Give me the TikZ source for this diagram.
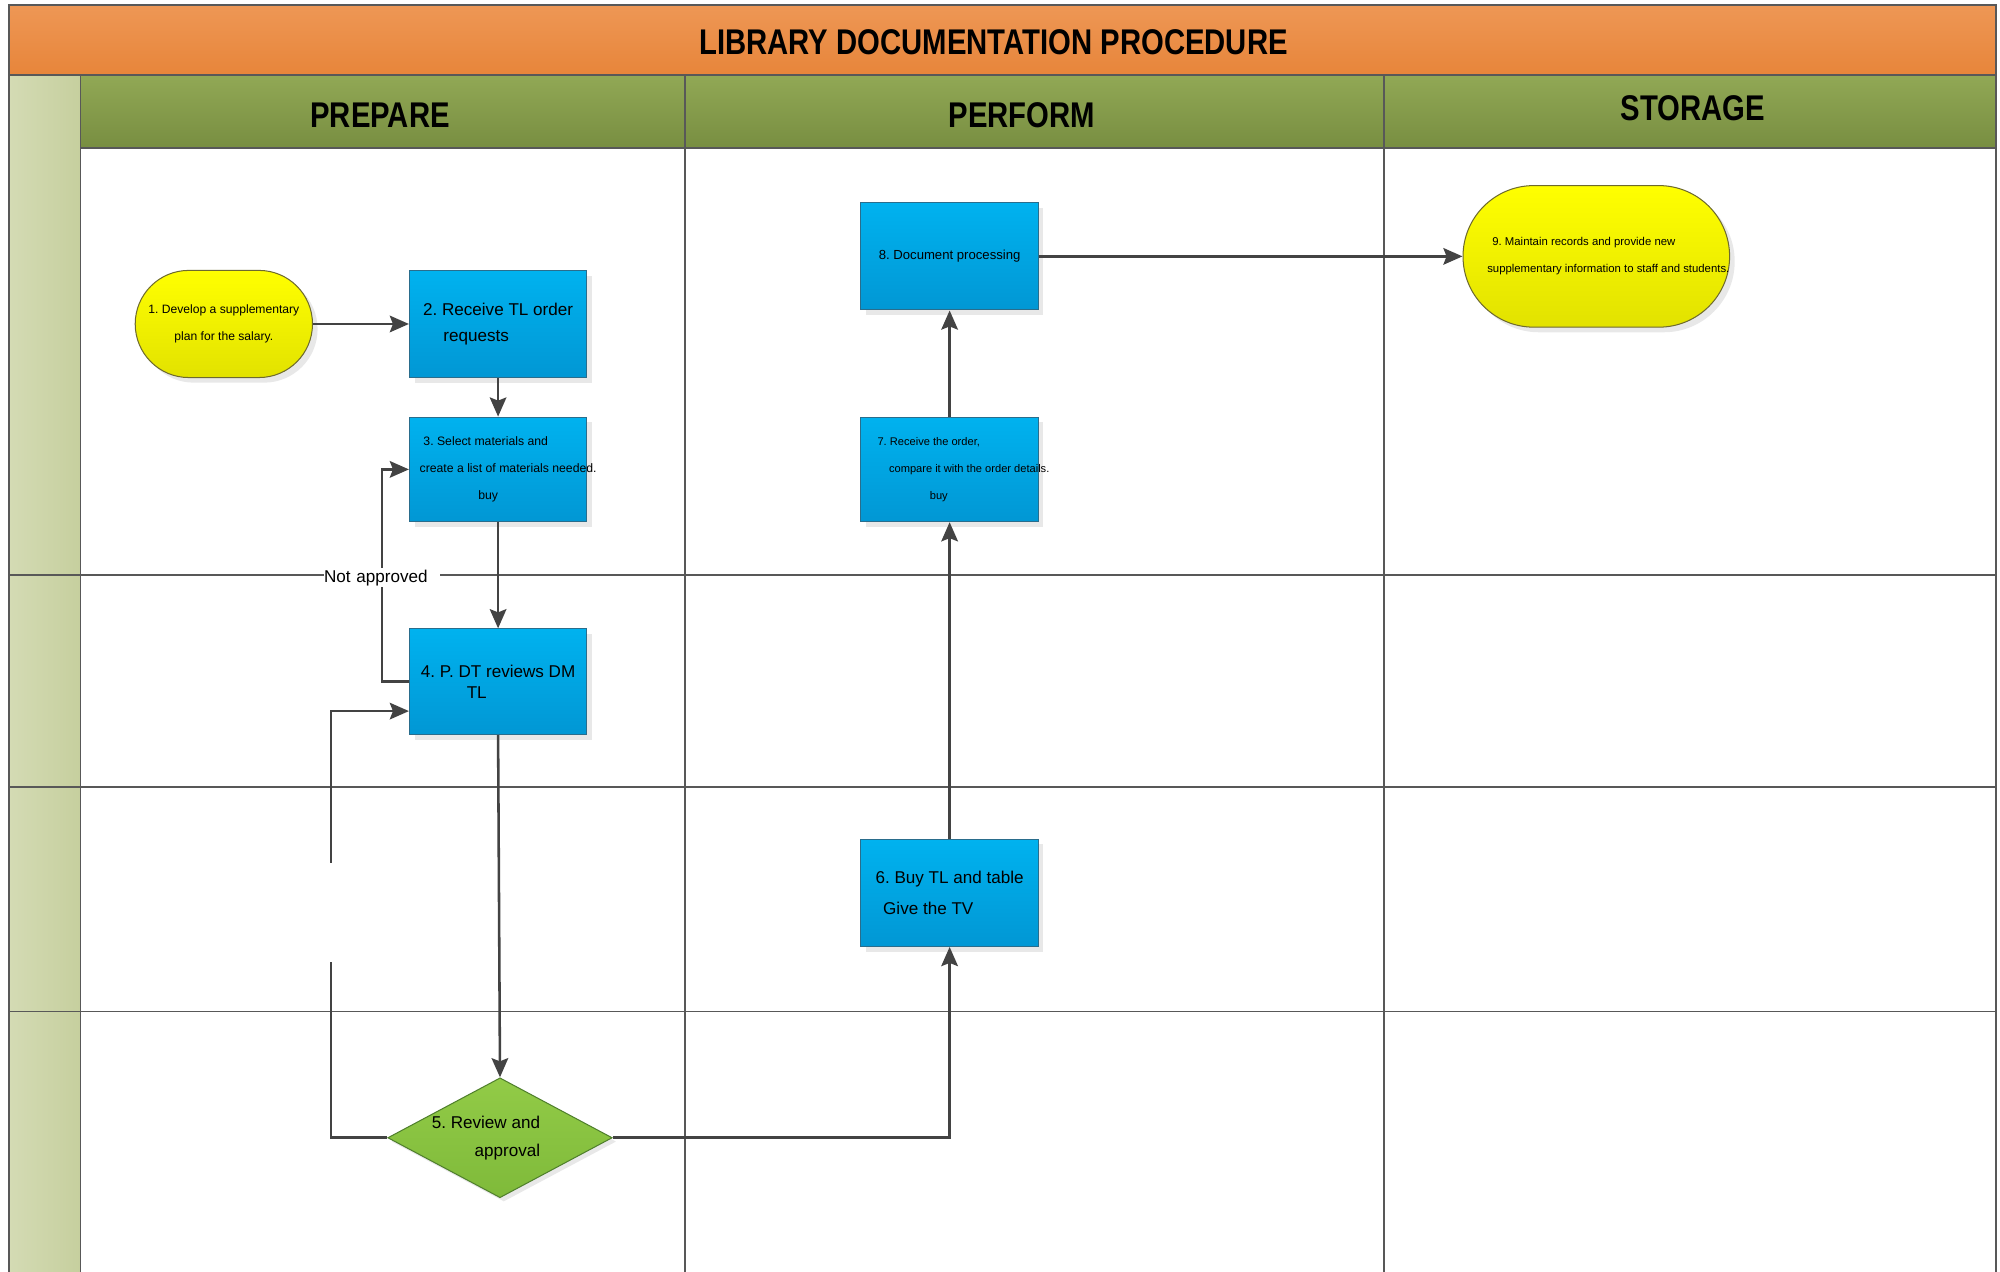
\documentclass[tikz,border=0pt]{standalone}
\usepackage{fontspec}
\setmainfont{Liberation Sans}
\newfontfamily\headfont[FakeStretch=0.82]{Liberation Sans}
\usetikzlibrary{shapes.geometric,shadows,arrows.meta}

\definecolor{titletop}{HTML}{EE9755}
\definecolor{titlebot}{HTML}{E7853A}
\definecolor{headtop}{HTML}{91A855}
\definecolor{headbot}{HTML}{788E41}
\definecolor{stubleft}{HTML}{D4DBB4}
\definecolor{stubright}{HTML}{C6CF9E}
\definecolor{gridgray}{HTML}{585858}
\definecolor{boxtop}{HTML}{00B2EF}
\definecolor{boxbot}{HTML}{0197D4}
\definecolor{boxline}{HTML}{2A6D8C}
\definecolor{termtop}{HTML}{FFFF00}
\definecolor{termbot}{HTML}{E2E200}
\definecolor{termline}{HTML}{6E6A2E}
\definecolor{dectop}{HTML}{92CB47}
\definecolor{decbot}{HTML}{7FBA3A}
\definecolor{decline}{HTML}{4F7F2C}
\definecolor{flowgray}{HTML}{434343}

\tikzset{
  procbox/.style={rectangle, draw=boxline, line width=0.8pt, top color=boxtop, bottom color=boxbot,
    minimum width=139pt, minimum height=84pt, inner sep=0pt, align=left,
    drop shadow={shadow xshift=4pt, shadow yshift=-4pt, opacity=0.18}},
  termbox/.style={rectangle, rounded corners=#1, draw=termline, line width=0.8pt, top color=termtop, bottom color=termbot,
    inner sep=0pt, align=center, drop shadow={shadow xshift=4pt, shadow yshift=-4pt, opacity=0.18}},
  decbox/.style={diamond, aspect=1.87, draw=decline, line width=0.8pt, top color=dectop, bottom color=decbot,
    minimum width=176pt, minimum height=94pt, inner sep=0pt, align=right,
    drop shadow={shadow xshift=3pt, shadow yshift=-3pt, opacity=0.18}},
  flow/.style={draw=flowgray, line width=2pt, -{Stealth[length=15pt,width=13pt,inset=2.5pt]}},
  lane/.style={draw=gridgray, line width=1.2pt},
  headtxt/.style={font=\headfont\bfseries\fontsize{28}{30}\selectfont},
  bigtxt/.style={font=\fontsize{13.4}{#1}\selectfont},
  bigtxt/.default=21,
  smalltxt/.style={font=\fontsize{#1}{21}\selectfont},
}

\begin{document}
\frenchspacing
\begin{tikzpicture}[x=1pt,y=-1pt]
  \path[fill=white] (0,0) rectangle (1568,997.2);
  \useasboundingbox (0,0) rectangle (1568,997.2);

  \draw[lane, top color=titletop, bottom color=titlebot] (7,4) rectangle (1565,59);
  \draw[lane, left color=stubleft, right color=stubright] (7,59) rectangle (63,1002);
  \draw[lane, top color=headtop, bottom color=headbot] (63,59) rectangle (537,116);
  \draw[lane, top color=headtop, bottom color=headbot] (537,59) rectangle (1085,116);
  \draw[lane, top color=headtop, bottom color=headbot] (1085,59) rectangle (1565,116);
  \foreach \x in {537,1085,1565}
    \draw[lane] (\x,116) -- (\x,1002);
  \foreach \y in {451,617,793}
    \draw[lane] (7,\y) -- (1565,\y);

  \node[headtxt] (ttl) at (779,33) {LIBRARY DOCUMENTATION PROCEDURE};
  \node[headtxt] (prep) at (298,90) {PREPARE};
  \node[headtxt] (perf) at (801,90) {PERFORM};
  \node[headtxt] (stor) at (1327,85) {STORAGE};

  \node[termbox=42pt, minimum width=139pt, minimum height=84pt, smalltxt=9.5] (dev) at (175.5,254)
    {1. Develop a supplementary\\plan for the salary.};
  \node[procbox, bigtxt] (recv) at (390.5,254) {2. Receive TL order\\\hspace*{16pt}requests};
  \node[procbox, minimum height=82pt, smalltxt=9.6] (select) at (390.5,368)
    {\hspace*{3pt}3. Select materials and\\\makebox[123pt][l]{create a list of materials needed.}\\\hspace*{46pt}buy};
  \node[procbox, minimum height=83pt, bigtxt=17] (review) at (390.5,534.5) {4. P. DT reviews DM\\\hspace*{36pt}TL};
  \node[decbox, bigtxt=22] (approve) at (392,892) {5. Review and\hspace*{22pt}\\approval\hspace*{22pt}};
  \node[procbox, bigtxt=24] (buy) at (744.5,700) {6. Buy TL and table\\\hspace*{6pt}Give the TV};
  \node[procbox, minimum height=82pt, smalltxt=8.7] (check) at (744.5,368)
    {7. Receive the order,\\\makebox[113pt][l]{\hspace*{9pt}compare it with the order details.}\\\hspace*{41pt}buy};
  \node[procbox, smalltxt=10.3] (docproc) at (744.5,201) {8. Document processing};
  \node[termbox=55.5pt, minimum width=209pt, minimum height=111pt, smalltxt=8.9, align=left] (keep) at (1251.5,201)
    {\hspace*{4pt}9. Maintain records and provide new\\\makebox[171pt][l]{supplementary information to staff and students.}};

  \draw[flow] (dev) -- (recv);
  \draw[flow] (recv) -- (select);
  \draw[flow] (select) -- (review);
  \draw[flow] (review.south) -- (approve.north);
  \draw[flow] (review.west) -- ++(-21,0) |- node[pos=0.245, fill=white, inner xsep=0pt, inner ysep=1pt,
    text width=91pt, align=left, bigtxt] (noway) {Not approved} (select.west);
  \draw[flow] (approve.west) -- ++(-44,0) |- node[pos=0.264, fill=white, minimum width=8pt,
    minimum height=77pt, inner sep=0pt] (gap) {} ([yshift=-23pt]review.west);
  \draw[flow] (approve.east) -| (buy.south);
  \draw[flow] (buy) -- (check);
  \draw[flow] (check) -- (docproc);
  \draw[flow] (docproc) -- (keep);
\end{tikzpicture}
\end{document}
